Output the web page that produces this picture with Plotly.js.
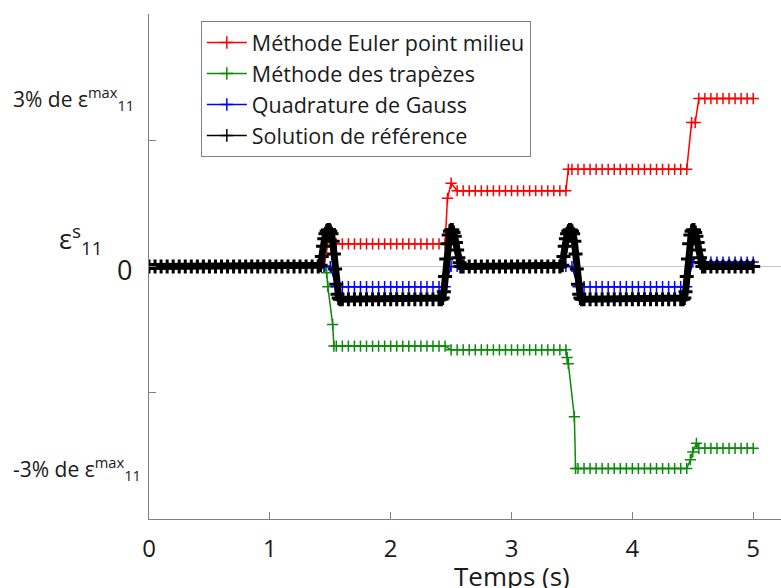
<!DOCTYPE html>
<html>
<head>
<meta charset="utf-8">
<script src="https://cdn.plot.ly/plotly-3.0.1.min.js"></script>
<style>html,body{margin:0;padding:0;background:#fff;}</style>
</head>
<body>
<div id="chart" style="width:781px;height:588px;"></div>
<script>
// Legend names
const seriesNames = ["Méthode Euler point milieu", "Méthode des trapèzes", "Quadrature de Gauss", "Solution de référence"];

// Méthode Euler point milieu
const time_euler = [0,0.05,0.1,0.15,0.2,0.25,0.3,0.35,0.4,0.45,0.5,0.55,0.6,0.65,0.7,0.75,0.8,0.85,0.9,0.95,1,1.05,1.1,1.15,1.2,1.25,1.3,1.35,1.4,1.45,
  1.5,1.55,1.6,1.65,1.7,1.75,1.8,1.85,1.9,1.95,2,2.05,2.1,2.15,2.2,2.25,2.3,2.35,2.4,2.45,
  2.47,2.5,2.55,2.6,2.65,2.7,2.75,2.8,2.85,2.9,2.95,3,3.05,3.1,3.15,3.2,3.25,3.3,3.35,3.4,3.45,
  3.47,3.5,3.55,3.6,3.65,3.7,3.75,3.8,3.85,3.9,3.95,4,4.05,4.1,4.15,4.2,4.25,4.3,4.35,4.4,4.45,
  4.49,4.52,4.55,4.6,4.65,4.7,4.75,4.8,4.85,4.9,4.95,5];
const eps_euler = [0,0,0,0,0,0,0,0,0,0,0,0,0,0,0,0,0,0,0,0,0,0,0,0,0,0,0,0,0,0,
  0.30,0.18,0.18,0.18,0.18,0.18,0.18,0.18,0.18,0.18,0.18,0.18,0.18,0.18,0.18,0.18,0.18,0.18,0.18,0.18,
  0.54,0.66,0.60,0.60,0.60,0.60,0.60,0.60,0.60,0.60,0.60,0.60,0.60,0.60,0.60,0.60,0.60,0.60,0.60,0.60,0.60,
  0.77,0.77,0.77,0.77,0.77,0.77,0.77,0.77,0.77,0.77,0.77,0.77,0.77,0.77,0.77,0.77,0.77,0.77,0.77,0.77,0.77,
  1.14,1.14,1.33,1.33,1.33,1.33,1.33,1.33,1.33,1.33,1.33,1.33];

// Méthode des trapèzes
const time_trap = [0,0.05,0.1,0.15,0.2,0.25,0.3,0.35,0.4,0.45,0.5,0.55,0.6,0.65,0.7,0.75,0.8,0.85,0.9,0.95,1,1.05,1.1,1.15,1.2,1.25,1.3,1.35,1.4,1.45,
  1.47,1.48,1.52,1.53,
  1.55,1.6,1.65,1.7,1.75,1.8,1.85,1.9,1.95,2,2.05,2.1,2.15,2.2,2.25,2.3,2.35,2.4,2.45,
  2.5,2.55,2.6,2.65,2.7,2.75,2.8,2.85,2.9,2.95,3,3.05,3.1,3.15,3.2,3.25,3.3,3.35,3.4,3.45,
  3.46,3.47,3.52,3.53,
  3.55,3.6,3.65,3.7,3.75,3.8,3.85,3.9,3.95,4,4.05,4.1,4.15,4.2,4.25,4.3,4.35,4.4,4.45,
  4.48,4.5,4.53,
  4.55,4.6,4.65,4.7,4.75,4.8,4.85,4.9,4.95,5];
const eps_trap = [0,0,0,0,0,0,0,0,0,0,0,0,0,0,0,0,0,0,0,0,0,0,0,0,0,0,0,0,0,0,
  -0.05,-0.16,-0.46,-0.63,
  -0.63,-0.63,-0.63,-0.63,-0.63,-0.63,-0.63,-0.63,-0.63,-0.63,-0.63,-0.63,-0.63,-0.63,-0.63,-0.63,-0.63,-0.63,-0.63,
  -0.66,-0.66,-0.66,-0.66,-0.66,-0.66,-0.66,-0.66,-0.66,-0.66,-0.66,-0.66,-0.66,-0.66,-0.66,-0.66,-0.66,-0.66,-0.66,-0.66,
  -0.72,-0.77,-1.19,-1.60,
  -1.60,-1.60,-1.60,-1.60,-1.60,-1.60,-1.60,-1.60,-1.60,-1.60,-1.60,-1.60,-1.60,-1.60,-1.60,-1.60,-1.60,-1.60,-1.60,
  -1.53,-1.47,-1.40,
  -1.44,-1.44,-1.44,-1.44,-1.44,-1.44,-1.44,-1.44,-1.44,-1.44];

// Quadrature de Gauss
const time_gauss = [0,0.05,0.1,0.15,0.2,0.25,0.3,0.35,0.4,0.45,0.5,0.55,0.6,0.65,0.7,0.75,0.8,0.85,0.9,0.95,1,1.05,1.1,1.15,1.2,1.25,1.3,1.35,1.4,1.45,1.5,
  1.55,1.6,1.65,1.7,1.75,1.8,1.85,1.9,1.95,2,2.05,2.1,2.15,2.2,2.25,2.3,2.35,2.4,2.45,
  2.5,2.55,2.6,2.65,2.7,2.75,2.8,2.85,2.9,2.95,3,3.05,3.1,3.15,3.2,3.25,3.3,3.35,3.4,3.45,3.5,
  3.55,3.6,3.65,3.7,3.75,3.8,3.85,3.9,3.95,4,4.05,4.1,4.15,4.2,4.25,4.3,4.35,4.4,4.45,
  4.5,4.55,4.6,4.65,4.7,4.75,4.8,4.85,4.9,4.95,5];
const eps_gauss = [0,0,0,0,0,0,0,0,0,0,0,0,0,0,0,0,0,0,0,0,0,0,0,0,0,0,0,0,0,0,0,
  -0.16,-0.16,-0.16,-0.16,-0.16,-0.16,-0.16,-0.16,-0.16,-0.16,-0.16,-0.16,-0.16,-0.16,-0.16,-0.16,-0.16,-0.16,-0.16,
  0,0,0,0,0,0,0,0,0,0,0,0,0,0,0,0,0,0,0,0,0,
  -0.16,-0.16,-0.16,-0.16,-0.16,-0.16,-0.16,-0.16,-0.16,-0.16,-0.16,-0.16,-0.16,-0.16,-0.16,-0.16,-0.16,-0.16,-0.16,
  0.035,0.035,0.035,0.035,0.035,0.035,0.035,0.035,0.035,0.035,0.035];

// Solution de référence (finer steps around the peaks)
const time_ref = [0,0.05,0.1,0.15,0.2,0.25,0.3,0.35,0.4,0.45,0.5,0.55,0.6,0.65,0.7,0.75,0.8,0.85,0.9,0.95,1,1.05,1.1,1.15,1.2,1.25,1.3,1.35,1.4,
  1.42,1.43,1.44,1.45,1.46,1.47,1.48,1.49,1.5,1.51,1.52,1.53,1.54,1.55,1.56,1.57,1.58,
  1.6,1.65,1.7,1.75,1.8,1.85,1.9,1.95,2,2.05,2.1,2.15,2.2,2.25,2.3,2.35,2.4,
  2.42,2.43,2.44,2.45,2.46,2.47,2.48,2.49,2.5,2.51,2.52,2.53,2.54,2.55,2.56,2.57,2.58,
  2.6,2.65,2.7,2.75,2.8,2.85,2.9,2.95,3,3.05,3.1,3.15,3.2,3.25,3.3,3.35,3.4,
  3.42,3.43,3.44,3.45,3.46,3.47,3.48,3.49,3.5,3.51,3.52,3.53,3.54,3.55,3.56,3.57,3.58,
  3.6,3.65,3.7,3.75,3.8,3.85,3.9,3.95,4,4.05,4.1,4.15,4.2,4.25,4.3,4.35,4.4,
  4.42,4.43,4.44,4.45,4.46,4.47,4.48,4.49,4.5,4.51,4.52,4.53,4.54,4.55,4.56,4.57,4.58,
  4.6,4.65,4.7,4.75,4.8,4.85,4.9,4.95,5];
const eps_ref = [0,0,0,0,0,0,0,0,0,0,0,0,0,0,0,0,0,0,0,0,0,0,0,0,0,0,0,0,0,
  0.01,0.08,0.16,0.22,0.26,0.28,0.29,0.29,0.28,0.26,0.2,0.1,-0.02,-0.14,-0.22,-0.25,-0.26,
  -0.26,-0.26,-0.26,-0.26,-0.26,-0.26,-0.26,-0.26,-0.26,-0.26,-0.26,-0.26,-0.26,-0.26,-0.26,-0.26,-0.26,
  -0.26,-0.25,-0.2,-0.08,0.06,0.18,0.25,0.28,0.29,0.29,0.27,0.24,0.19,0.13,0.07,0.03,0.0,
  0,0,0,0,0,0,0,0,0,0,0,0,0,0,0,0,0,
  0.01,0.08,0.16,0.22,0.26,0.28,0.29,0.29,0.28,0.26,0.2,0.1,-0.02,-0.14,-0.22,-0.25,-0.26,
  -0.26,-0.26,-0.26,-0.26,-0.26,-0.26,-0.26,-0.26,-0.26,-0.26,-0.26,-0.26,-0.26,-0.26,-0.26,-0.26,-0.26,
  -0.26,-0.25,-0.2,-0.08,0.06,0.18,0.25,0.28,0.29,0.29,0.27,0.24,0.19,0.13,0.07,0.03,0.0,
  0,0,0,0,0,0,0,0,0];

// Axis tick labels
const xTickVals = [0,1,2,3,4,5];
const xTickText = ["0","1","2","3","4","5"];
const yTickVals = [-2,-1,0,1,2];
const yLevelLabels = ["3% de ε<sup>max</sup><sub>11</sub>", "-3% de ε<sup>max</sup><sub>11</sub>"];
const yLevelValues = [1.33, -1.60];
const yAxisLabel = "ε<sup>s</sup><sub>11</sub>";
const xAxisLabel = "Temps (s)";
const colors = ["#ff0000", "#0a8a0a", "#0000ff", "#000000"];

const FONT = "Open Sans, Liberation Sans, sans-serif";
const TXT = "#1a1a1a";

function mk(x, y, color, lw, ms, mlw) {
  return {
    type: "scatter", mode: "lines+markers", x: x, y: y, showlegend: false,
    line: {color: color, width: lw},
    marker: {symbol: "cross-thin-open", size: ms, color: color, line: {color: color, width: mlw}}
  };
}
function legendEntry(name, color) {
  return {
    type: "scatter", mode: "lines+markers", x: [null], y: [null], name: name, legendgroup: name,
    showlegend: true,
    line: {color: color, width: 1.5},
    marker: {symbol: "cross-thin-open", size: 9, color: color, line: {color: color, width: 1.5}}
  };
}

const traces = [
  mk(time_euler, eps_euler, colors[0], 1.5, 8, 1.5),
  mk(time_trap, eps_trap, colors[1], 1.5, 8, 1.5),
  mk(time_gauss, eps_gauss, colors[2], 1.5, 8, 1.5),
  mk(time_ref, eps_ref, colors[3], 7, 10, 3),
  legendEntry(seriesNames[0], colors[0]),
  legendEntry(seriesNames[1], colors[1]),
  legendEntry(seriesNames[2], colors[2]),
  legendEntry(seriesNames[3], colors[3])
];

const layout = {
  width: 781, height: 588,
  margin: {l: 149, r: 0, t: 14, b: 69, pad: 0},
  paper_bgcolor: "#ffffff", plot_bgcolor: "#ffffff",
  font: {family: FONT, color: TXT},
  showlegend: true,
  legend: {
    x: 0.082, y: 0.986, xanchor: "left", yanchor: "top",
    bgcolor: "#ffffff", bordercolor: "#808080", borderwidth: 1,
    font: {family: FONT, size: 21.5, color: TXT},
    itemwidth: 40, traceorder: "grouped", tracegroupgap: 0
  },
  xaxis: {
    range: [0, 5.23], tickvals: xTickVals, ticktext: xTickText,
    ticks: "inside", ticklen: 7, tickcolor: "#808080", tickwidth: 1,
    showline: true, linecolor: "#808080", linewidth: 1,
    showgrid: false, zeroline: false,
    tickfont: {family: FONT, size: 24, color: TXT},
    ticklabelstandoff: 8
  },
  yaxis: {
    range: [-2, 2], tickvals: yTickVals,
    ticks: "inside", ticklen: 7, tickcolor: "#808080", tickwidth: 1,
    showticklabels: false,
    showline: true, linecolor: "#808080", linewidth: 1,
    showgrid: false, zeroline: true, zerolinecolor: "#c8c8c8", zerolinewidth: 1.5
  },
  annotations: [
    {text: "0", xref: "paper", yref: "y", x: -0.038, y: 0, xanchor: "center", yanchor: "middle",
     showarrow: false, font: {family: FONT, size: 27, color: TXT}, yshift: -3},
    {text: yAxisLabel, xref: "paper", yref: "y", x: -0.145, y: 0.21, xanchor: "left", yanchor: "middle",
     showarrow: false, font: {family: FONT, size: 27, color: TXT}},
    {text: yLevelLabels[0], xref: "paper", yref: "y", x: -0.219, y: yLevelValues[0], xanchor: "left", yanchor: "middle",
     showarrow: false, font: {family: FONT, size: 21, color: TXT}},
    {text: yLevelLabels[1], xref: "paper", yref: "y", x: -0.219, y: yLevelValues[1], xanchor: "left", yanchor: "middle",
     showarrow: false, font: {family: FONT, size: 21, color: TXT}},
    {text: xAxisLabel, xref: "x", yref: "paper", x: 3, y: -0.113, xanchor: "center", yanchor: "middle",
     showarrow: false, font: {family: FONT, size: 26, color: TXT}}
  ]
};

Plotly.newPlot("chart", traces, layout, {displayModeBar: false, staticPlot: true});
</script>
</body>
</html>
